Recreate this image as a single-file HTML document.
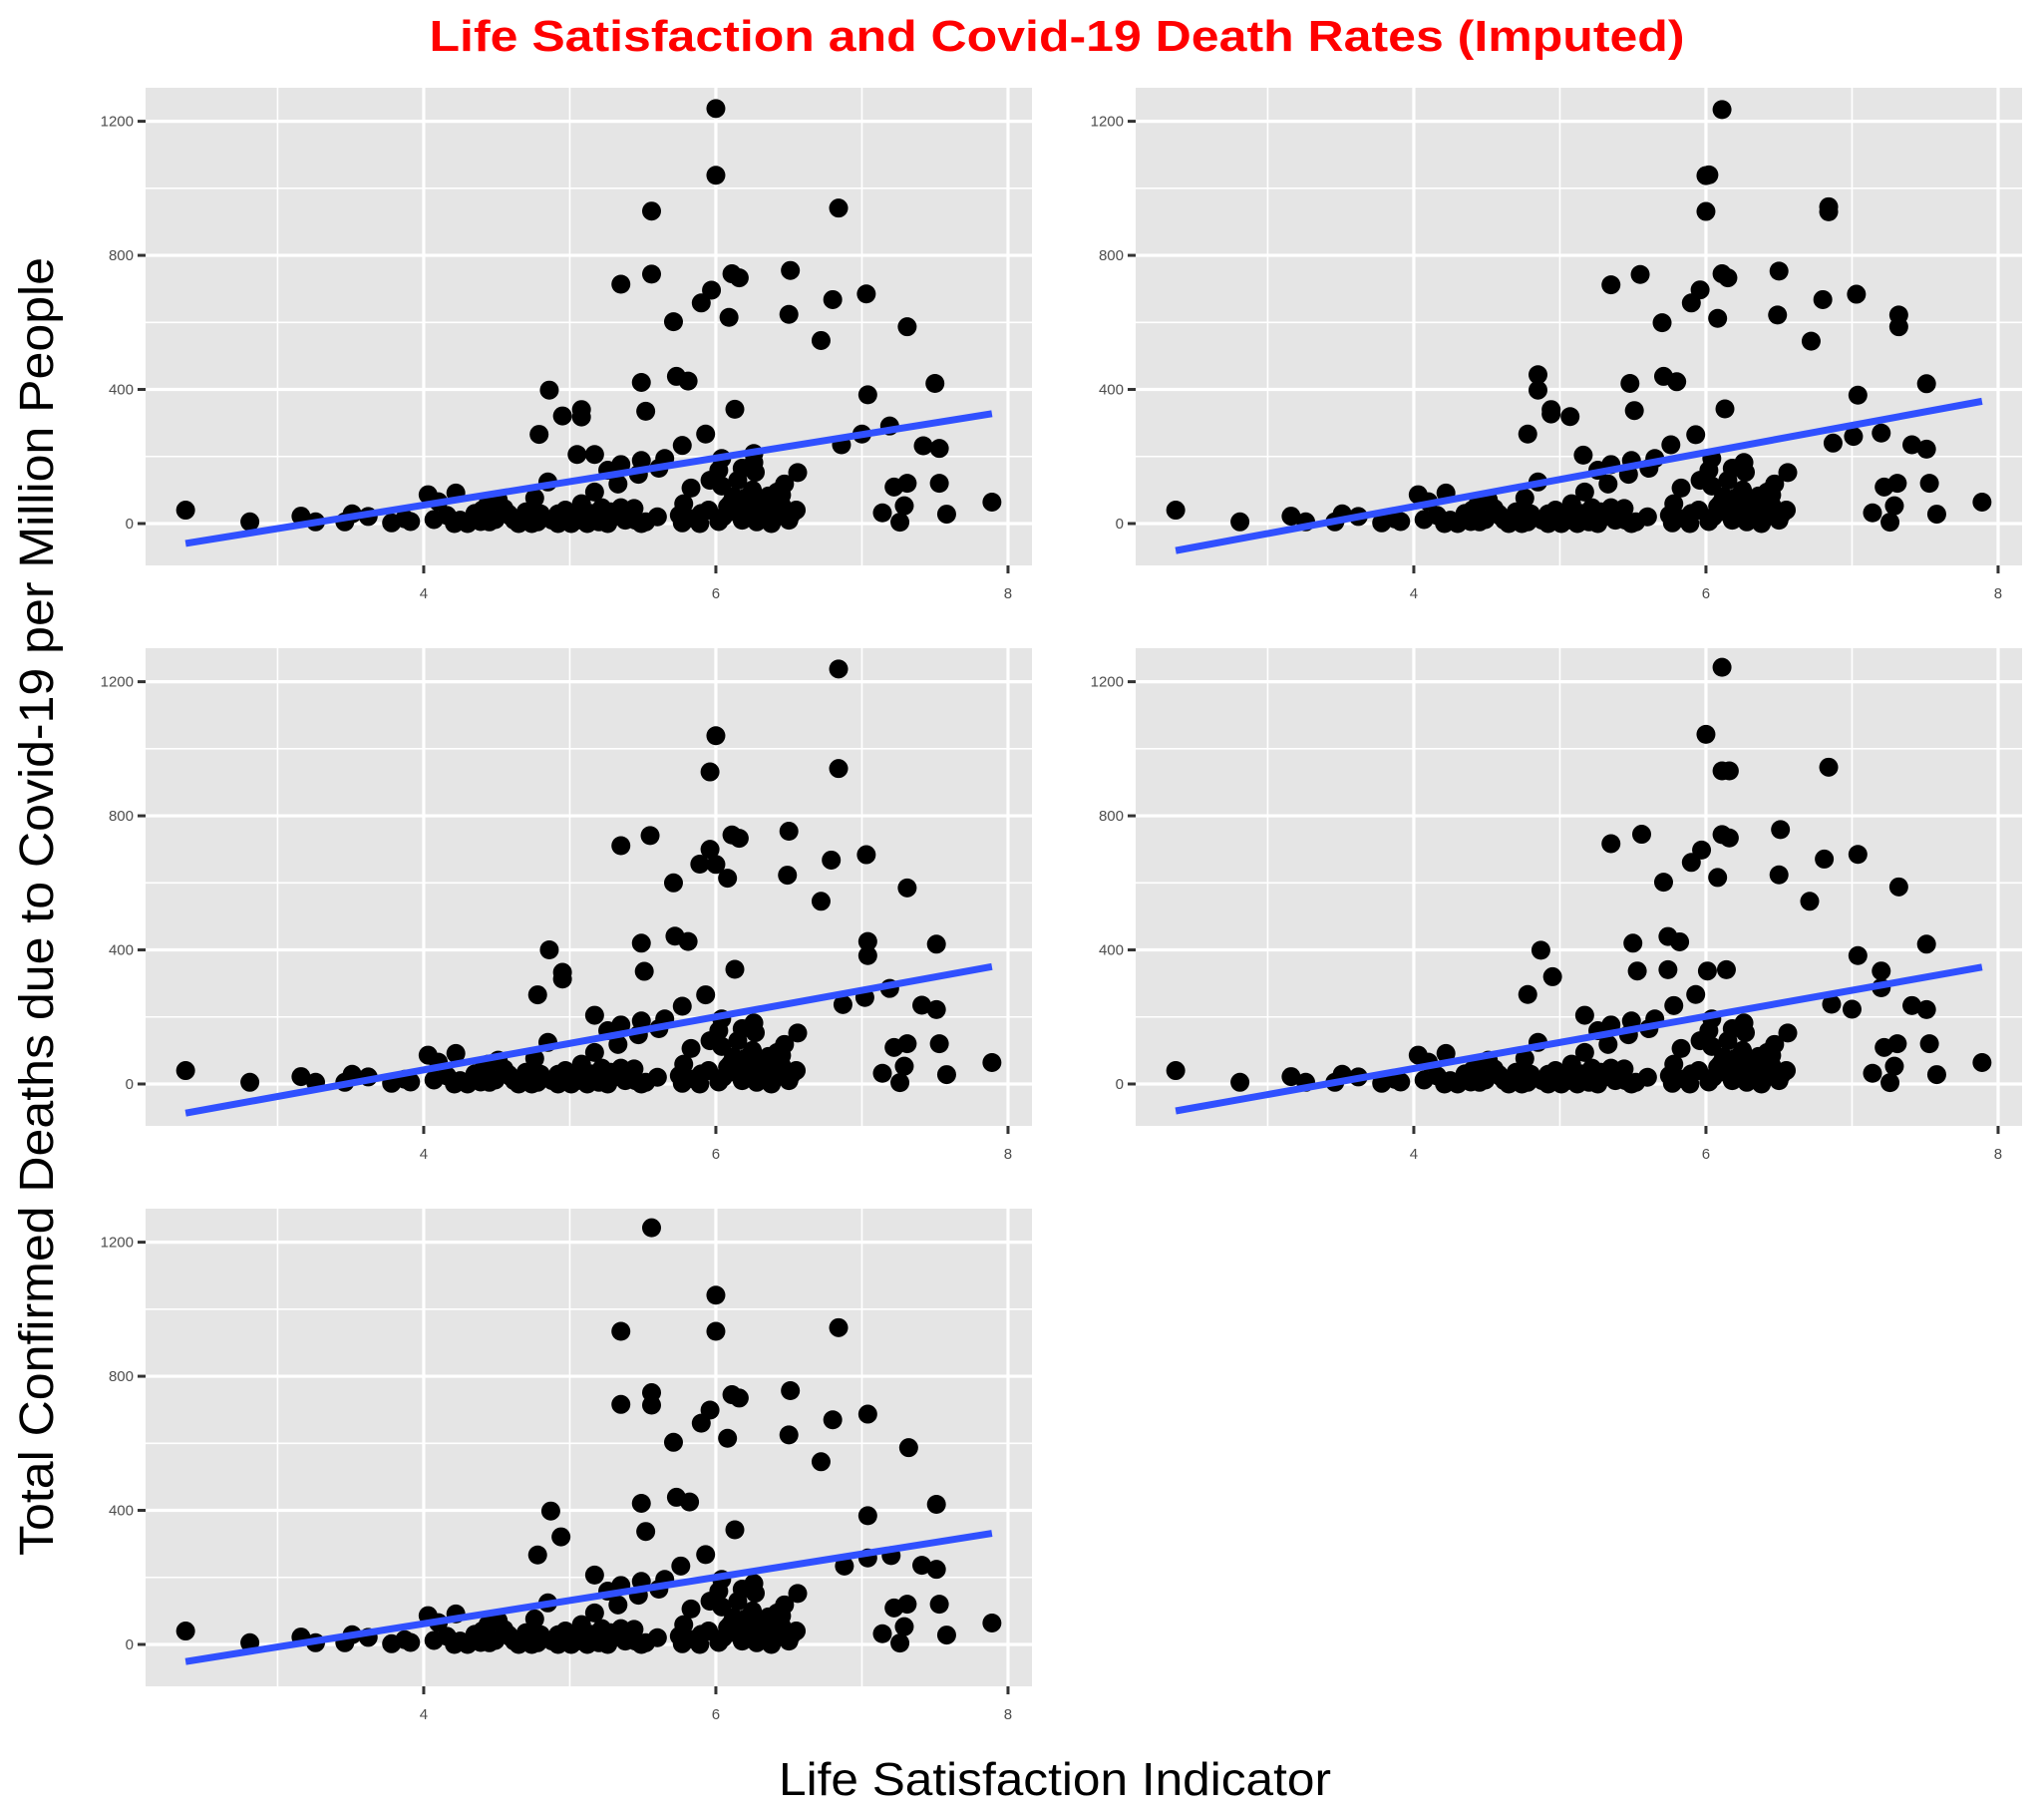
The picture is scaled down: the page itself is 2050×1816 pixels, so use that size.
<!DOCTYPE html>
<html><head><meta charset="utf-8"><style>
html,body{margin:0;padding:0;background:#fff;}
svg{display:block;}
text{font-family:"Liberation Sans",Arial,sans-serif;}
</style></head><body>
<svg id="fig" xmlns="http://www.w3.org/2000/svg" width="2050" height="1816" viewBox="0 0 2050 1816">
<rect x="0" y="0" width="2050" height="1816" fill="#fff"/>
<text x="1060" y="51" text-anchor="middle" font-size="44" font-weight="bold" fill="#ff0000" textLength="1259" lengthAdjust="spacingAndGlyphs">Life Satisfaction and Covid-19 Death Rates (Imputed)</text>
<text x="1058" y="1800" text-anchor="middle" font-size="46" fill="#000" textLength="554" lengthAdjust="spacingAndGlyphs">Life Satisfaction Indicator</text>
<text transform="translate(53,909) rotate(-90)" text-anchor="middle" font-size="48" fill="#000" textLength="1302" lengthAdjust="spacingAndGlyphs">Total Confirmed Deaths due to Covid-19 per Million People</text>
<g id="panels"></g>
</svg>
<script>
const xTicks = [4, 6, 8];
const xMinor = [3, 5, 7];
const yTicks = [0, 400, 800, 1200];
const yMinor = [200, 600, 1000];
const xTickLabels = ["4", "6", "8"];
const yTickLabels = ["0", "400", "800", "1200"];

const lowPoints = [[6.56,152],[6.26,182],[7.22,109],[7.31,120],[7.53,120],[7.89,64],[7.14,32],[7.29,53],[7.26,4],[7.58,28],[2.37,40],[2.81,5],[3.16,22],[3.26,5],[3.46,5],[3.51,29],[3.62,21],[3.78,2],[3.87,14],[4.03,86],[4.22,91],[4.1,65],[4.16,24],[4.21,0],[4.3,0],[4.39,6],[4.44,59],[4.51,71],[4.58,29],[4.65,0],[4.74,0],[4.76,76],[4.85,124],[4.8,29],[4.92,29],[5.01,0],[5.08,59],[5.17,94],[5.22,47],[5.26,159],[5.33,118],[5.35,176],[5.35,47],[5.26,0],[5.47,147],[5.49,188],[5.42,24],[5.49,0],[5.61,165],[5.65,194],[5.78,59],[5.83,106],[5.77,2],[5.89,0],[5.96,129],[6.02,159],[6.04,112],[6.02,6],[6.13,35],[6.15,129],[6.04,194],[6.2,76],[6.31,59],[6.31,12],[6.38,0],[6.36,82],[6.42,94],[6.47,118],[6.52,29],[6.18,165],[6.27,153],[4.49,12],[4.92,0],[5.12,0],[4.07,12],[3.91,6],[4.4,40],[4.6,20],[5.0,20],[5.3,20],[5.45,10],[6.1,60],[6.3,30],
[4.25,10],[4.35,30],[4.45,5],[4.55,45],[4.62,10],[4.7,35],[4.78,5],[4.88,10],[4.97,40],[5.05,10],[5.15,30],[5.2,5],[5.28,35],[5.38,10],[5.44,45],[5.52,5],[5.6,20],[5.75,25],[5.85,15],[5.95,40],[6.05,20],[6.12,80],[6.18,10],[6.22,45],[6.28,5],[6.33,40],[6.4,20],[6.45,55],[6.5,10],[6.55,40],[6.25,100],[6.35,60],[6.45,85],[5.9,30],[6.08,50],[6.2,30]];

const highPanel1 = [[6.0,1238],[6.0,1039],[5.56,932],[6.84,941],[5.35,714],[5.56,744],[6.11,745],[6.16,733],[6.51,755],[5.97,696],[5.9,658],[5.71,602],[6.09,615],[6.5,624],[6.8,668],[7.03,685],[6.72,546],[7.31,587],[5.73,439],[5.81,425],[5.49,421],[7.5,418],[4.86,398],[7.04,384],[5.52,335],[6.13,341],[4.95,321],[5.08,340],[5.08,318],[4.79,266],[5.93,267],[7.19,291],[5.77,233],[6.86,235],[7.0,267],[7.42,232],[7.53,224],[5.05,206],[5.17,206],[6.26,209]];
const highPanel2 = [[6.11,1235],[6.0,1038],[6.02,1040],[6.0,931],[6.84,945],[6.84,930],[5.35,712],[5.55,743],[6.11,745],[6.15,733],[6.5,753],[5.96,697],[5.9,658],[5.7,599],[6.08,612],[6.49,622],[6.8,668],[7.03,684],[6.72,544],[7.32,622],[7.32,587],[4.85,444],[4.85,398],[5.71,439],[5.8,423],[5.48,418],[7.51,417],[7.04,383],[4.94,327],[5.07,319],[5.51,337],[6.13,342],[4.78,267],[5.93,265],[5.76,235],[7.01,260],[6.87,240],[7.2,270],[7.41,235],[7.51,222],[5.16,204],[4.94,340]];
const highPanel3 = [[6.84,1238],[6.0,1039],[5.96,931],[6.84,941],[5.35,711],[5.55,741],[6.11,743],[6.16,733],[6.5,754],[5.96,700],[5.89,656],[6.0,655],[5.71,600],[6.08,614],[6.49,623],[6.79,668],[7.03,684],[6.72,545],[7.31,585],[4.86,400],[5.72,441],[5.81,425],[5.49,420],[7.51,417],[7.04,425],[7.04,383],[4.95,333],[4.95,313],[5.51,336],[6.13,342],[4.78,266],[5.93,266],[5.77,232],[7.19,285],[6.87,237],[7.02,258],[7.41,235],[7.51,222],[5.17,205]];
const highPanel4 = [[6.11,1243],[6.0,1043],[6.11,934],[6.16,934],[6.84,945],[5.35,717],[5.56,745],[6.11,744],[6.16,734],[6.51,759],[5.97,698],[5.9,661],[5.71,602],[6.08,616],[6.5,624],[6.81,671],[7.04,685],[6.71,545],[7.32,588],[5.74,440],[5.82,424],[5.5,420],[7.51,417],[4.87,399],[7.04,383],[5.53,337],[5.74,341],[6.01,337],[6.14,341],[4.95,320],[7.2,337],[4.78,267],[5.93,267],[5.78,234],[7.2,287],[5.17,205],[6.86,238],[7.0,223],[7.41,234],[7.51,222]];
const highPanel5 = [[5.56,1243],[6.0,1042],[5.35,934],[6.0,934],[6.84,945],[5.35,716],[5.56,751],[5.56,714],[6.11,745],[6.16,735],[6.51,757],[5.96,699],[5.9,660],[5.71,603],[6.08,615],[6.5,625],[6.8,670],[7.04,687],[6.72,545],[7.32,587],[5.73,439],[5.82,425],[5.49,421],[7.51,418],[4.87,398],[7.04,384],[4.94,321],[5.52,337],[6.13,342],[4.78,267],[5.93,268],[5.76,234],[7.2,265],[6.88,234],[7.04,258],[7.41,236],[7.51,224],[5.17,207]];

const panelHighs = [highPanel1, highPanel2, highPanel3, highPanel4, highPanel5];
const panelBoxes = [[146,88],[1139,88],[146,650],[1139,650],[146,1212]];
const PW = 889, PH = 479;
const X0 = 2.096, X1 = 8.164, Y0 = -125, Y1 = 1300;
const NS = "http://www.w3.org/2000/svg";
const root = document.getElementById('panels');

function mk(tag, attrs, parent){
  const e = document.createElementNS(NS, tag);
  for (const k in attrs) e.setAttribute(k, attrs[k]);
  parent.appendChild(e);
  return e;
}

panelBoxes.forEach((box, pi) => {
  const [left, top] = box;
  const sx = v => left + (v - X0) / (X1 - X0) * PW;
  const sy = v => top + PH - (v - Y0) / (Y1 - Y0) * PH;
  const g = mk('g', {}, root);
  
  
  const bg = mk('rect', {x:left, y:top, width:PW, height:PH, fill:'#e5e5e5'}, g);
  
  
  xMinor.forEach(v => {
    const l = mk('line', {x1:sx(v), x2:sx(v), y1:top, y2:top+PH, stroke:'#fff', 'stroke-width':1.6}, g);
    
    
  });
  yMinor.forEach(v => {
    const l = mk('line', {x1:left, x2:left+PW, y1:sy(v), y2:sy(v), stroke:'#fff', 'stroke-width':1.6}, g);
    
    
  });
  xTicks.forEach((v, i) => {
    const l = mk('line', {x1:sx(v), x2:sx(v), y1:top, y2:top+PH, stroke:'#fff', 'stroke-width':3.2}, g);
    
    
    const t = mk('line', {x1:sx(v), x2:sx(v), y1:top+PH, y2:top+PH+8, stroke:'#333', 'stroke-width':3}, g);
    
    
    const tx = mk('text', {x:sx(v), y:top+PH+33, 'text-anchor':'middle', 'font-size':15, fill:'#4d4d4d'}, g);
    
    
    tx.textContent = xTickLabels[i];
  });
  yTicks.forEach((v, i) => {
    const l = mk('line', {x1:left, x2:left+PW, y1:sy(v), y2:sy(v), stroke:'#fff', 'stroke-width':3.2}, g);
    
    
    const t = mk('line', {x1:left-8, x2:left, y1:sy(v), y2:sy(v), stroke:'#333', 'stroke-width':3}, g);
    
    
    const tx = mk('text', {x:left-12, y:sy(v)+5, 'text-anchor':'end', 'font-size':15, fill:'#4d4d4d'}, g);
    
    
    tx.textContent = yTickLabels[i];
  });
  const pts = lowPoints.concat(panelHighs[pi]);
  pts.forEach(p => {
    const c = mk('circle', {cx:sx(p[0]), cy:sy(p[1]), r:9.5, fill:'#000'}, g);
    
    
  });
  const n = pts.length;
  let mx = 0, my = 0;
  pts.forEach(p => { mx += p[0]; my += p[1]; });
  mx /= n; my /= n;
  let sxy = 0, sxx = 0;
  pts.forEach(p => { sxy += (p[0]-mx)*(p[1]-my); sxx += (p[0]-mx)*(p[0]-mx); });
  const b = sxy / sxx, a = my - b * mx;
  const xs = pts.map(p => p[0]);
  const xa = Math.min(...xs), xb = Math.max(...xs);
  const line = mk('line', {x1:sx(xa), y1:sy(a+b*xa), x2:sx(xb), y2:sy(a+b*xb), stroke:'#3050ff', 'stroke-width':7}, g);
  
  
});
</script>
</body></html>
